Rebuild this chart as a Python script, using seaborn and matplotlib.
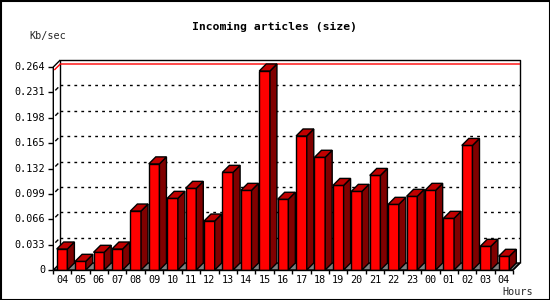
import numpy as np
import pandas as pd
import matplotlib
matplotlib.use("Agg")
import matplotlib.pyplot as plt
import seaborn as sns
from matplotlib.patches import Polygon, Rectangle
from matplotlib.lines import Line2D
from matplotlib.transforms import IdentityTransform

hours = ['04', '05', '06', '07', '08', '09', '10', '11', '12', '13', '14', '15', '16',
         '17', '18', '19', '20', '21', '22', '23', '00', '01', '02', '03', '04']
values = [0.0273, 0.0113, 0.0230, 0.0273, 0.0767, 0.1380, 0.0932, 0.1062, 0.0637,
          0.1270, 0.1036, 0.2588, 0.0920, 0.1743, 0.1466, 0.1100, 0.1023, 0.1230,
          0.0854, 0.0958, 0.1036, 0.0672, 0.1620, 0.0308, 0.0178]
yticks = [0, 0.033, 0.066, 0.099, 0.132, 0.165, 0.198, 0.231, 0.264]
ytick_labels = ['0', '0.033', '0.066', '0.099', '0.132', '0.165', '0.198', '0.231', '0.264']
title = "Incoming articles (size)"
ylabel = "Kb/sec"
xlabel = "Hours"

sns.set_style("white")
plt.rcParams['font.family'] = ['DejaVu Sans Mono']

W, H = 550, 300
fig = plt.figure(figsize=(5.5, 3.0), dpi=100)
fig.patch.set_facecolor('white')
ax = fig.add_axes([53.3 / W, 30 / H, (513 - 53.3) / W, (270 - 67) / H])
ax.set_facecolor('none')

df = pd.DataFrame({'slot': np.arange(len(values)), 'value': values})
sns.barplot(data=df, x='slot', y='value', order=list(range(len(values))),
            color='#ff0000', saturation=1, width=0.58, edgecolor='black',
            linewidth=1.0, ax=ax, zorder=5)

ax.set_xlim(-0.475, len(values) - 0.51)
ax.set_ylim(0, yticks[-1])
for s in ax.spines.values():
    s.set_visible(False)
ax.set_xticks([])
ax.set_yticks([])
ax.set_xlabel('')
ax.set_ylabel('')

D = 7.0  # 3D depth in pixels
T = IdentityTransform()


def disp(x, y):
    return ax.transData.transform((x, y))


x0, x1 = ax.get_xlim()
ymax = yticks[-1]


def line(pts, color='black', lw=1.0, ls='-', z=3):
    xs = [p[0] for p in pts]
    ys = [p[1] for p in pts]
    ax.add_line(Line2D(xs, ys, transform=T, color=color, lw=lw, ls=ls,
                       zorder=z, solid_capstyle='butt', clip_on=False))


def poly(pts, fc, z):
    ax.add_patch(Polygon(pts, closed=True, transform=T, facecolor=fc,
                         edgecolor='black', lw=1.0, zorder=z, clip_on=False))


# floor
fl, ff = disp(x0, 0), disp(x1, 0)
poly([fl, ff, ff + [D, D], fl + [D, D]], '#808080', 2)

# back wall frame
bl0, bl1 = disp(x0, 0) + [D, D], disp(x0, ymax) + [D, D]
br0, br1 = disp(x1, 0) + [D, D], disp(x1, ymax) + [D, D]
line([bl0, bl1, br1, br0], z=3)
line([disp(x0, 0), disp(x0, ymax), bl1], z=8)
line([disp(x1, 0), br0], z=8)

# gridlines on back wall + stubs
for v in yticks[1:-1]:
    p = disp(x0, v)
    line([p + [D, D], disp(x1, v) + [D, D]], ls=(0, (2, 3)), z=3)
    line([p + [2, 2], p + [5, 5]], z=3)
    line([p - [5, 0], p], z=8)
line([disp(x0, 0) - [5, 0], disp(x0, 0)], z=8)
line([disp(x0, ymax) - [5, 0], disp(x0, ymax)], z=8)

# max line
vmax = max(values)
pm = disp(x0, vmax)
line([pm + [1, 1], pm + [D, D], disp(x1, vmax) + [D, D]], color='#ff0000', z=4)

# 3D bar faces
for p in list(ax.patches)[:len(values)]:
    bx, by, bw, bh = p.get_x(), p.get_y(), p.get_width(), p.get_height()
    lr = disp(bx + bw, by)
    ur = disp(bx + bw, by + bh)
    ul = disp(bx, by + bh)
    poly([lr, ur, ur + [D, D], lr + [D, D]], '#800000', 6)
    poly([ul, ur, ur + [D, D], ul + [D, D]], '#c00000', 6)

# front floor edge
line([disp(x0, 0), disp(x1, 0)], z=8)

# x ticks and labels
for i, lab in enumerate(hours):
    pc = disp(i, 0)
    fig.text(pc[0] / W, (pc[1] - 10) / H, lab, ha='center', va='center',
             fontsize=7.3, color='black')
for i in range(len(values)):
    pt = disp(i + 0.5, 0)
    line([pt, pt - [0, 4]], z=8)
line([disp(x0, 0), disp(x0, 0) - [0, 4]], z=8)

# y labels
for v, lab in zip(yticks, ytick_labels):
    p = disp(x0, v)
    fig.text((p[0] - 8) / W, p[1] / H, lab, ha='right', va='center',
             fontsize=7.3, color='black')

fig.text(274 / W, 1 - 26.5 / H, title, ha='center', va='center',
         fontsize=8.2, fontweight='bold', color='black')
fig.text(29 / W, 1 - 36.5 / H, ylabel, ha='left', va='center', fontsize=7.3)
fig.text(533 / W, 1 - 292 / H, xlabel, ha='right', va='center', fontsize=7.3)

# outer frame
fig.add_artist(Rectangle((0.5, 0.5), W - 1, H - 1, transform=T, fill=False,
                         edgecolor='black', lw=1.5, zorder=10))

fig.savefig('out.png', dpi=100)
